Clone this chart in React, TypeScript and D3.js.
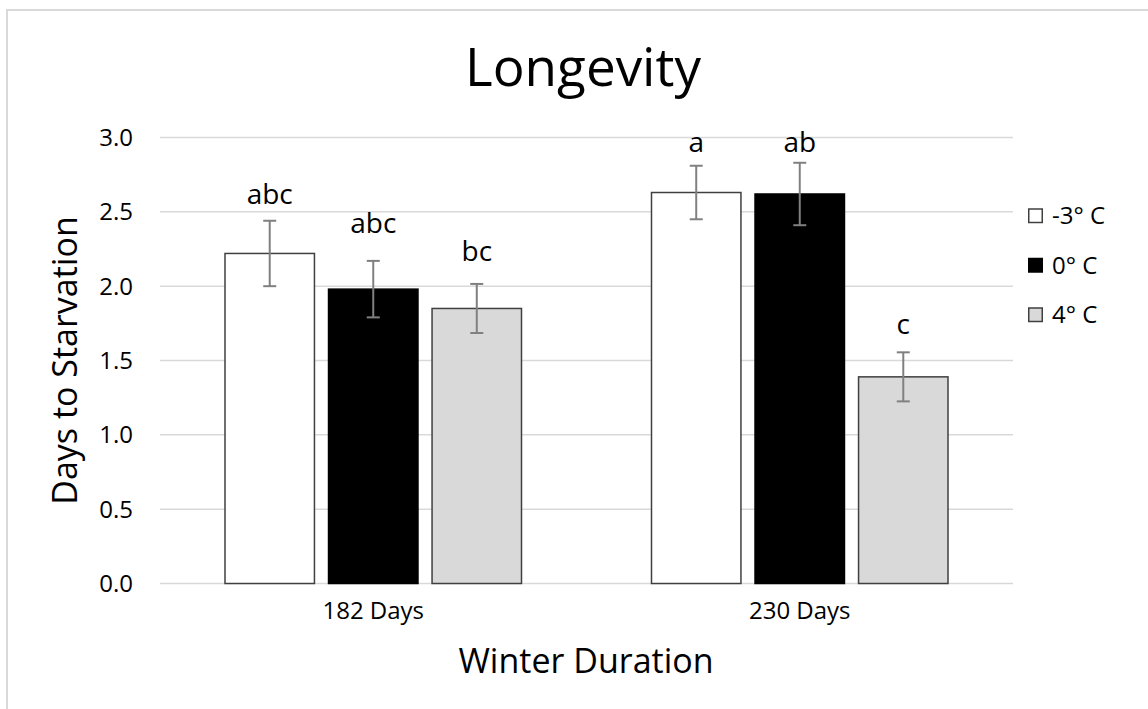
import React, { useEffect } from 'react';
import * as d3 from 'd3';

// data
const categories = ['182 Days', '230 Days'];
const seriesNames = ['-3° C', '0° C', '4° C'];
const coldMeans = [2.22, 2.63];
const zeroMeans = [1.98, 2.62];
const warmMeans = [1.85, 1.39];
const coldErr = [0.22, 0.18];
const zeroErr = [0.19, 0.21];
const warmErr = [0.165, 0.165];
const coldLetters = ['abc', 'a'];
const zeroLetters = ['abc', 'ab'];
const warmLetters = ['bc', 'c'];
// letter baselines, in data units
const coldLetterY = [2.55, 2.9];
const zeroLetterY = [2.36, 2.9];
const warmLetterY = [2.17, 1.68];
const yTicks = [0, 0.5, 1.0, 1.5, 2.0, 2.5, 3.0];

const W = 1148;
const H = 709;
const FONT = '"Open Sans", sans-serif';

const fills = ['#ffffff', '#000000', '#d9d9d9'];
const strokes = ['#404040', '#000000', '#404040'];

const App: React.FC = () => {
  useEffect(() => {
    document.body.style.margin = '0';
  }, []);

  const plot = { left: 160, right: 1013, top: 137.5, bottom: 583.5 };

  const x0 = d3.scaleBand<string>()
    .domain(categories)
    .range([plot.left, plot.right])
    .paddingInner(0)
    .paddingOuter(0);

  const groupPad = 65;
  const x1 = d3.scaleBand<string>()
    .domain(seriesNames)
    .range([groupPad, x0.bandwidth() - groupPad])
    .paddingInner(0.136)
    .paddingOuter(0);

  const y = d3.scaleLinear().domain([0, 3]).range([plot.bottom, plot.top]);

  const means = [coldMeans, zeroMeans, warmMeans];
  const errs = [coldErr, zeroErr, warmErr];
  const letters = [coldLetters, zeroLetters, warmLetters];
  const letterY = [coldLetterY, zeroLetterY, warmLetterY];

  const bars = categories.flatMap((cat, ci) =>
    seriesNames.map((s, si) => ({
      cat,
      s,
      si,
      x: (x0(cat) || 0) + (x1(s) || 0),
      value: means[si][ci],
      err: errs[si][ci],
      letter: letters[si][ci],
      letterY: letterY[si][ci],
    }))
  );

  const bw = x1.bandwidth();
  const fmt = d3.format('.1f');

  return (
    <svg width={W} height={H} style={{ display: 'block', background: '#fff' }}>
      {/* chart frame */}
      <rect x={7} y={10} width={W + 20} height={H + 20} fill="#fff" stroke="#d9d9d9" strokeWidth={2} />

      <text x={583} y={86} textAnchor="middle" fontFamily={FONT} fontSize={53} fill="#000">
        Longevity
      </text>

      {/* gridlines */}
      {yTicks.map(t => (
        <line key={t} x1={plot.left} x2={plot.right} y1={y(t)} y2={y(t)} stroke="#d9d9d9" strokeWidth={1.5} />
      ))}

      {/* y tick labels */}
      {yTicks.map(t => (
        <text key={'l' + t} x={133} y={y(t)} dy="0.35em" textAnchor="end" fontFamily={FONT} fontSize={24} fill="#000">
          {fmt(t)}
        </text>
      ))}

      {/* bars */}
      {bars.map(b => (
        <rect
          key={b.cat + b.s}
          x={b.x}
          y={y(b.value)}
          width={bw}
          height={y(0) - y(b.value)}
          fill={fills[b.si]}
          stroke={strokes[b.si]}
          strokeWidth={1.5}
        />
      ))}

      {/* error bars */}
      {bars.map(b => {
        const cx = b.x + bw / 2;
        return (
          <g key={'e' + b.cat + b.s} stroke="#808080" strokeWidth={2}>
            <line x1={cx} x2={cx} y1={y(b.value + b.err)} y2={y(b.value - b.err)} />
            <line x1={cx - 6.5} x2={cx + 6.5} y1={y(b.value + b.err)} y2={y(b.value + b.err)} />
            <line x1={cx - 6.5} x2={cx + 6.5} y1={y(b.value - b.err)} y2={y(b.value - b.err)} />
          </g>
        );
      })}

      {/* significance letters */}
      {bars.map(b => (
        <text key={'t' + b.cat + b.s} x={b.x + bw / 2} y={y(b.letterY)} textAnchor="middle" fontFamily={FONT} fontSize={28} fill="#000">
          {b.letter}
        </text>
      ))}

      {/* x tick labels */}
      {categories.map(c => (
        <text key={c} x={(x0(c) || 0) + x0.bandwidth() / 2} y={619} textAnchor="middle" fontFamily={FONT} fontSize={24} fill="#000">
          {c}
        </text>
      ))}

      {/* axis titles */}
      <text x={586} y={673} textAnchor="middle" fontFamily={FONT} fontSize={34} fill="#000">
        Winter Duration
      </text>
      <text
        transform={`translate(77, ${(plot.top + plot.bottom) / 2}) rotate(-90)`}
        textAnchor="middle"
        fontFamily={FONT}
        fontSize={34}
        fill="#000"
      >
        Days to Starvation
      </text>

      {/* legend */}
      {seriesNames.map((s, i) => (
        <g key={s} transform={`translate(1028, ${216 + i * 49.5})`}>
          <rect x={0.75} y={-7} width={13.5} height={13.5} fill={fills[i]} stroke={strokes[i]} strokeWidth={1.5} />
          <text x={24} y={0} dy="0.35em" fontFamily={FONT} fontSize={24} fill="#000">
            {s}
          </text>
        </g>
      ))}
    </svg>
  );
};

export default App;
